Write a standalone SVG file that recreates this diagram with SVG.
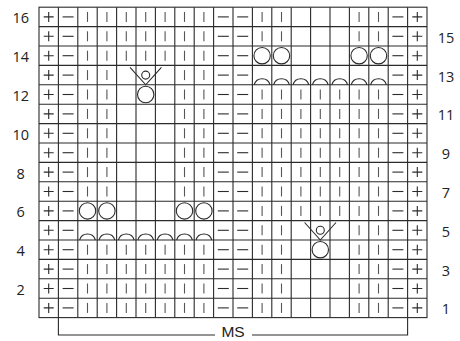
<svg xmlns="http://www.w3.org/2000/svg" xmlns:xlink="http://www.w3.org/1999/xlink" width="460" height="341" viewBox="0 0 460 341">
<style>
.g{fill:none;stroke:#2b2b2b;stroke-width:1.1}
.s{fill:none;stroke:#2b2b2b;stroke-width:1.1}
.k{fill:none;stroke:#555;stroke-width:1.1}
.lbl{font-family:"Open Sans","Liberation Sans",sans-serif;font-size:14.5px;fill:#222;text-anchor:middle}
.ms{font-family:"Liberation Sans","Open Sans",sans-serif;font-size:15.5px;fill:#222;text-anchor:middle}
</style>
<defs>
<path id="P" class="s" d="M-5,0H5M0,-5V5"/>
<path id="M" class="s" d="M-5.5,0H5.5"/>
<path id="K" class="k" d="M0,-5V5"/>
<circle id="O" class="s" r="8.2"/>
<path id="A" class="s" d="M-7.9,9.7A8.2,8.2 0 0 1 7.9,9.7"/>
<g id="V" class="s"><polyline points="-15.7,-7.8 0,9.7 15.7,-7.8"/><circle r="4"/></g>
<g id="edge"><use href="#P" x="48.7"/><use href="#M" x="68.1"/><use href="#M" x="223.3"/><use href="#M" x="242.7"/><use href="#M" x="397.9"/><use href="#P" x="417.3"/></g>
<g id="leftK"><use href="#K" x="87.5"/><use href="#K" x="106.9"/><use href="#K" x="126.3"/><use href="#K" x="145.7"/><use href="#K" x="165.1"/><use href="#K" x="184.5"/><use href="#K" x="203.9"/></g>
<g id="rightK"><use href="#K" x="262.1"/><use href="#K" x="281.5"/><use href="#K" x="300.9"/><use href="#K" x="320.3"/><use href="#K" x="339.7"/><use href="#K" x="359.1"/><use href="#K" x="378.5"/></g>
<g id="rowA"><use href="#edge"/><use href="#leftK"/><use href="#K" x="262.1"/><use href="#K" x="281.5"/><use href="#K" x="359.1"/><use href="#K" x="378.5"/></g>
<g id="rowB"><use href="#edge"/><use href="#K" x="87.5"/><use href="#K" x="106.9"/><use href="#K" x="184.5"/><use href="#K" x="203.9"/><use href="#rightK"/></g>
</defs>
<rect width="460" height="341" fill="#fff"/>
<g id="grid" class="g">
<rect x="39" y="7.2" width="388" height="310.4"/>
<path d="M58.4,7.2V317.6M77.8,7.2V317.6M97.2,7.2V317.6M116.6,7.2V317.6M136,7.2V317.6M155.4,7.2V317.6M174.8,7.2V317.6M194.2,7.2V317.6M213.6,7.2V317.6M233,7.2V317.6M252.4,7.2V317.6M271.8,7.2V317.6M291.2,7.2V317.6M310.6,7.2V317.6M330,7.2V317.6M349.4,7.2V317.6M368.8,7.2V317.6M388.2,7.2V317.6M407.6,7.2V317.6"/>
<path d="M39,26.6H427M39,46H427M39,65.4H427M39,84.8H427M39,104.2H427M39,123.6H427M39,143H427M39,162.4H427M39,181.8H427M39,201.2H427M39,220.6H427M39,240H427M39,259.4H427M39,278.8H427M39,298.2H427"/>
</g>
<g id="stitches">
<g id="r16" transform="translate(0,16.9)"><use href="#rowA"/></g>
<g id="r15" transform="translate(0,36.3)"><use href="#rowA"/></g>
<g id="r14" transform="translate(0,55.7)"><use href="#edge"/><use href="#leftK"/><use href="#O" x="262.1"/><use href="#O" x="281.5"/><use href="#O" x="359.1"/><use href="#O" x="378.5"/></g>
<g id="r13" transform="translate(0,75.1)"><use href="#edge"/><use href="#K" x="87.5"/><use href="#K" x="106.9"/><use href="#V" x="145.7"/><use href="#K" x="184.5"/><use href="#K" x="203.9"/><use href="#A" x="262.1"/><use href="#A" x="281.5"/><use href="#A" x="300.9"/><use href="#A" x="320.3"/><use href="#A" x="339.7"/><use href="#A" x="359.1"/><use href="#A" x="378.5"/></g>
<g id="r12" transform="translate(0,94.5)"><use href="#rowB"/><use href="#O" x="145.7"/></g>
<g id="r11" transform="translate(0,113.9)"><use href="#rowB"/></g>
<g id="r10" transform="translate(0,133.3)"><use href="#rowB"/></g>
<g id="r9" transform="translate(0,152.7)"><use href="#rowB"/></g>
<g id="r8" transform="translate(0,172.1)"><use href="#rowB"/></g>
<g id="r7" transform="translate(0,191.5)"><use href="#rowB"/></g>
<g id="r6" transform="translate(0,210.9)"><use href="#edge"/><use href="#O" x="87.5"/><use href="#O" x="106.9"/><use href="#O" x="184.5"/><use href="#O" x="203.9"/><use href="#rightK"/></g>
<g id="r5" transform="translate(0,230.3)"><use href="#edge"/><use href="#A" x="87.5"/><use href="#A" x="106.9"/><use href="#A" x="126.3"/><use href="#A" x="145.7"/><use href="#A" x="165.1"/><use href="#A" x="184.5"/><use href="#A" x="203.9"/><use href="#K" x="262.1"/><use href="#K" x="281.5"/><use href="#V" x="320.3"/><use href="#K" x="359.1"/><use href="#K" x="378.5"/></g>
<g id="r4" transform="translate(0,249.7)"><use href="#rowA"/><use href="#O" x="320.3"/></g>
<g id="r3" transform="translate(0,269.1)"><use href="#rowA"/></g>
<g id="r2" transform="translate(0,288.5)"><use href="#rowA"/></g>
<g id="r1" transform="translate(0,307.9)"><use href="#rowA"/></g>
</g>
<g id="labels-left" class="lbl">
<text x="20.7" y="23.3">16</text>
<text x="20.7" y="62.1">14</text>
<text x="20.7" y="100.9">12</text>
<text x="20.7" y="139.7">10</text>
<text x="20.7" y="178.5">8</text>
<text x="20.7" y="217.3">6</text>
<text x="20.7" y="256.1">4</text>
<text x="20.7" y="294.9">2</text>
</g>
<g id="labels-right" class="lbl">
<text x="446" y="42.7">15</text>
<text x="446" y="81.5">13</text>
<text x="446" y="120.3">11</text>
<text x="446" y="159.1">9</text>
<text x="446" y="197.9">7</text>
<text x="446" y="236.7">5</text>
<text x="446" y="275.5">3</text>
<text x="446" y="314.3">1</text>
</g>
<g id="connectors">
<path class="g" d="M58.4,317.6V335H215M252,335H407.6V317.6"/>
</g>
<g id="ms"><text class="ms" x="233" y="337.3">MS</text></g>
</svg>
